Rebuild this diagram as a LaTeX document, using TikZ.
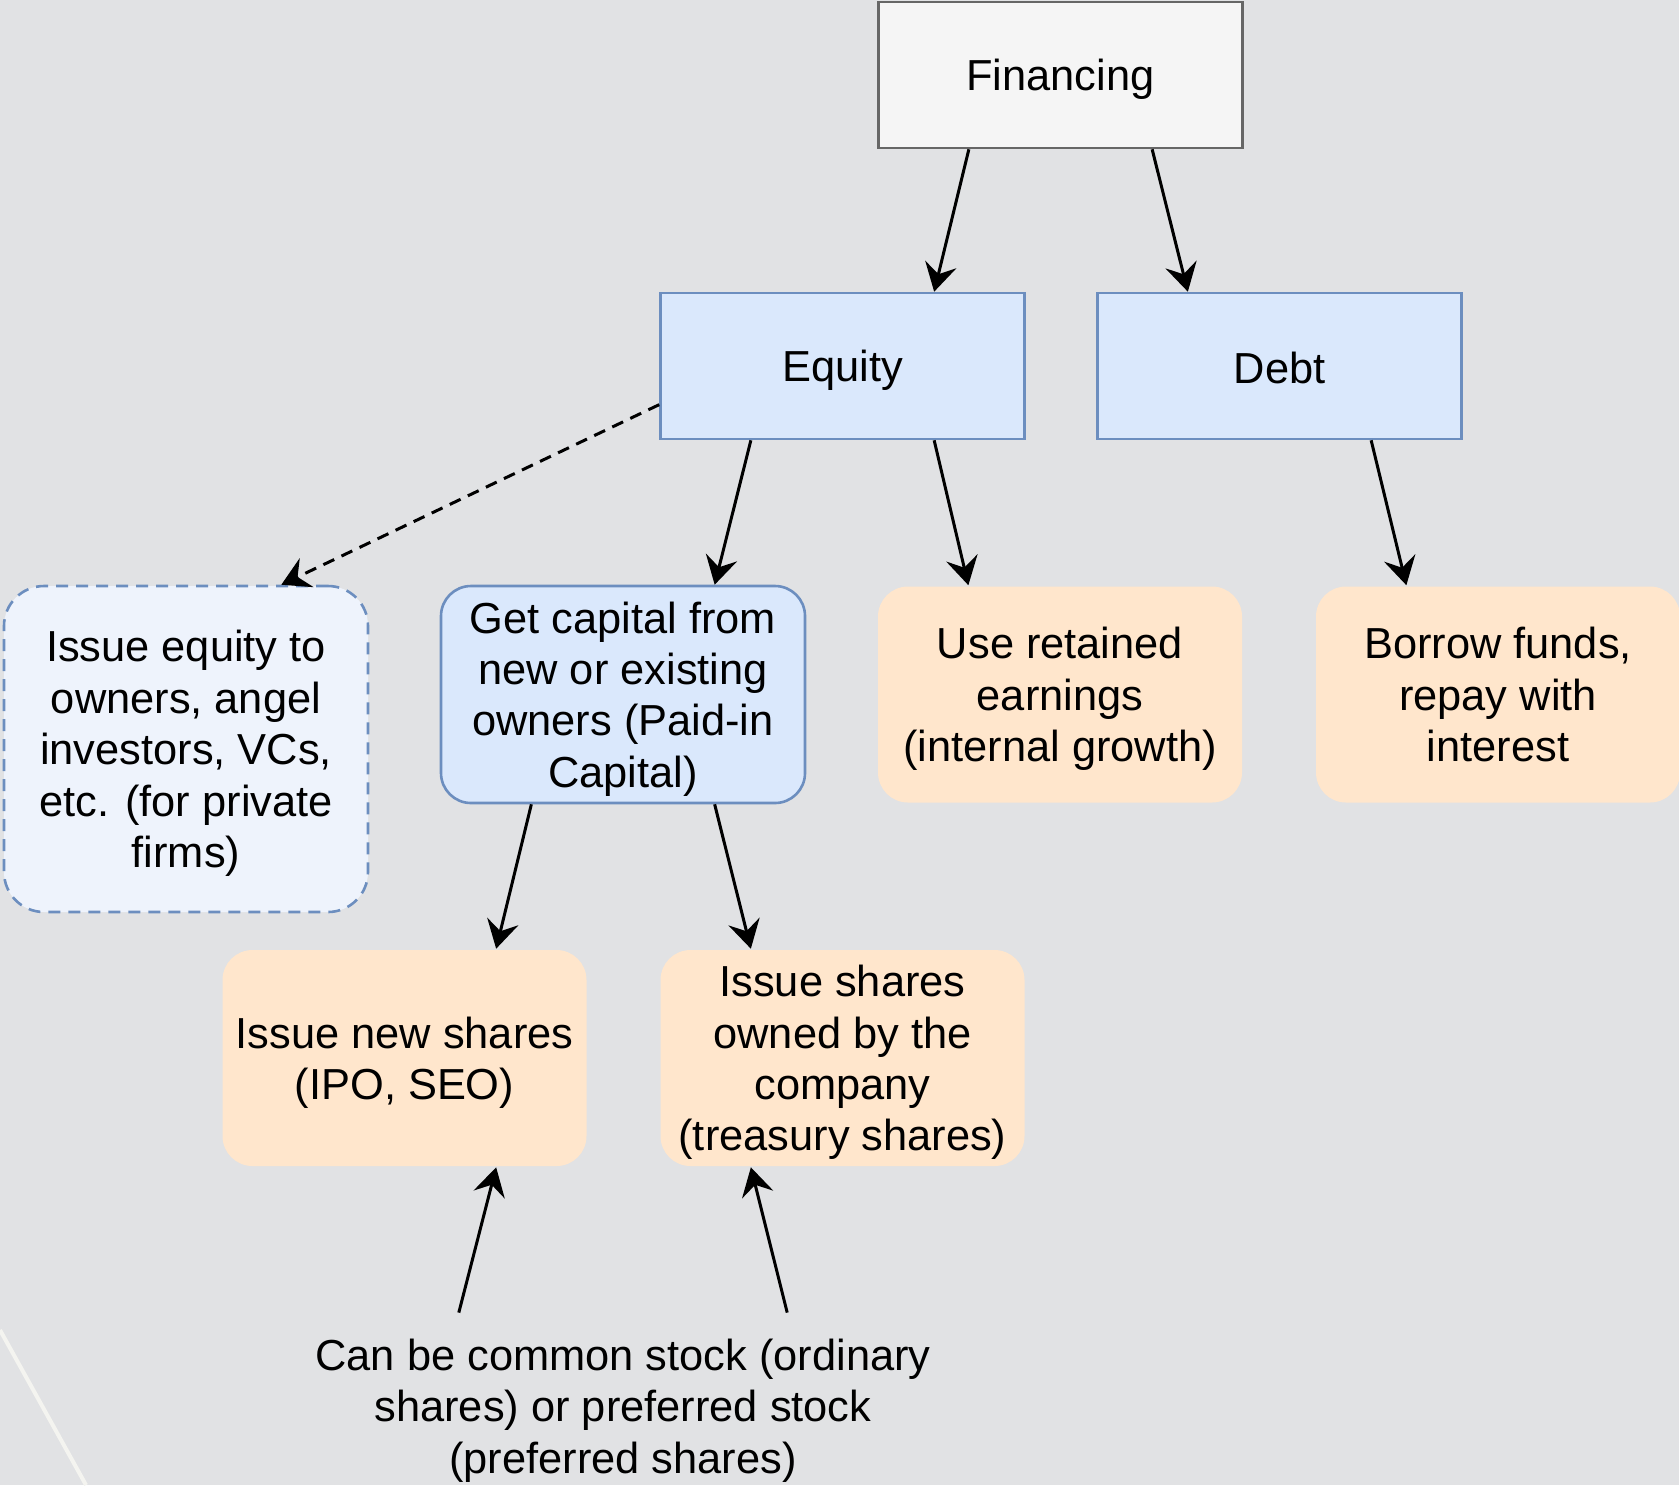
\documentclass[tikz,border=0pt]{standalone}
\usepackage{fontspec}
\setmainfont{Liberation Sans}
\usetikzlibrary{arrows.meta,calc}

\definecolor{bggrey}{HTML}{E1E2E4}
\definecolor{greyfill}{HTML}{F5F5F5}
\definecolor{greyline}{HTML}{666666}
\definecolor{bluefill}{HTML}{DAE8FC}
\definecolor{blueline}{HTML}{6C8EBF}
\definecolor{palefill}{HTML}{EEF3FC}
\definecolor{orangefill}{HTML}{FFE6CC}
\definecolor{streak}{HTML}{F4F4F0}

\newcommand\boxstrut{\rule{0pt}{17.5pt}}

\tikzset{
  textblock/.style={align=center, inner sep=0pt, text depth=0pt},
  nodebox/.style={textblock, draw, line width=1.3pt, minimum width=182pt, minimum height=73pt},
  plainbox/.style={nodebox, draw=greyline, fill=greyfill},
  bluebox/.style={nodebox, draw=blueline, fill=bluefill},
  roundblue/.style={bluebox, rounded corners=15pt, minimum height=108.5pt},
  dashblue/.style={nodebox, draw=blueline, fill=palefill, dash pattern=on 6pt off 4pt,
    rounded corners=20pt, minimum height=163pt},
  orangebox/.style={nodebox, draw=none, fill=orangefill, rounded corners=15pt, minimum height=108pt},
  link/.style={-{Stealth[length=14pt,width=16pt,inset=5pt]}, line width=1.5pt},
}

\begin{document}
\begin{tikzpicture}[x=0.5pt, y=-0.5pt, font=\fontsize{21.7}{25.7}\selectfont]
\fill[bggrey] (0,0) rectangle (1679,1485);
\useasboundingbox (0,0) rectangle (1679,1485);
\draw[streak, line width=2pt] (0,1330) -- (86,1485);

\node[plainbox] (fin) at (1060.5,75) {Financing};
\node[bluebox] (eq) at (842.5,366) {Equity};
\node[bluebox] (debt) at (1279.5,366) {\boxstrut Debt};

\node[dashblue] (priv) at (186,749) {Issue equity to\\owners, angel\\investors, VCs,\\etc. (for private\\firms)};
\node[roundblue] (paid) at (623,694.5) {Get capital from\\new or existing\\owners (Paid-in\\Capital)};
\node[orangebox] (ret) at (1060,694.5) {Use retained\\earnings\\(internal growth)};
\node[orangebox] (borrow) at (1498,694.5) {Borrow funds,\\repay with\\interest};

\node[orangebox] (newsh) at (404.5,1058) {Issue new shares\\(IPO, SEO)};
\node[orangebox] (treas) at (842.5,1058) {Issue shares\\owned by the\\company\\(treasury shares)};

\node[textblock, minimum width=328pt, minimum height=93pt] (note) at (623,1406)
  {Can be common stock (ordinary\\shares) or preferred stock\\(preferred shares)};

% downward links
\foreach \from/\to/\s/\t in {fin/eq/.25/.75, fin/debt/.75/.25, eq/paid/.25/.75, eq/ret/.75/.25,
    debt/borrow/.75/.25, paid/newsh/.25/.75, paid/treas/.75/.25}
  \draw[link] ($(\from.south west)!\s!(\from.south east)$) -- ($(\to.north west)!\t!(\to.north east)$);

% upward links
\foreach \to/\s/\t in {newsh/.25/.75, treas/.75/.25}
  \draw[link] ($(note.north west)!\s!(note.north east)$) -- ($(\to.south west)!\t!(\to.south east)$);

\draw[link, dash pattern=on 6pt off 4pt] ($(eq.north west)!.76!(eq.south west)$)
  -- ($(priv.north west)!.76!(priv.north east)$);
\end{tikzpicture}
\end{document}
